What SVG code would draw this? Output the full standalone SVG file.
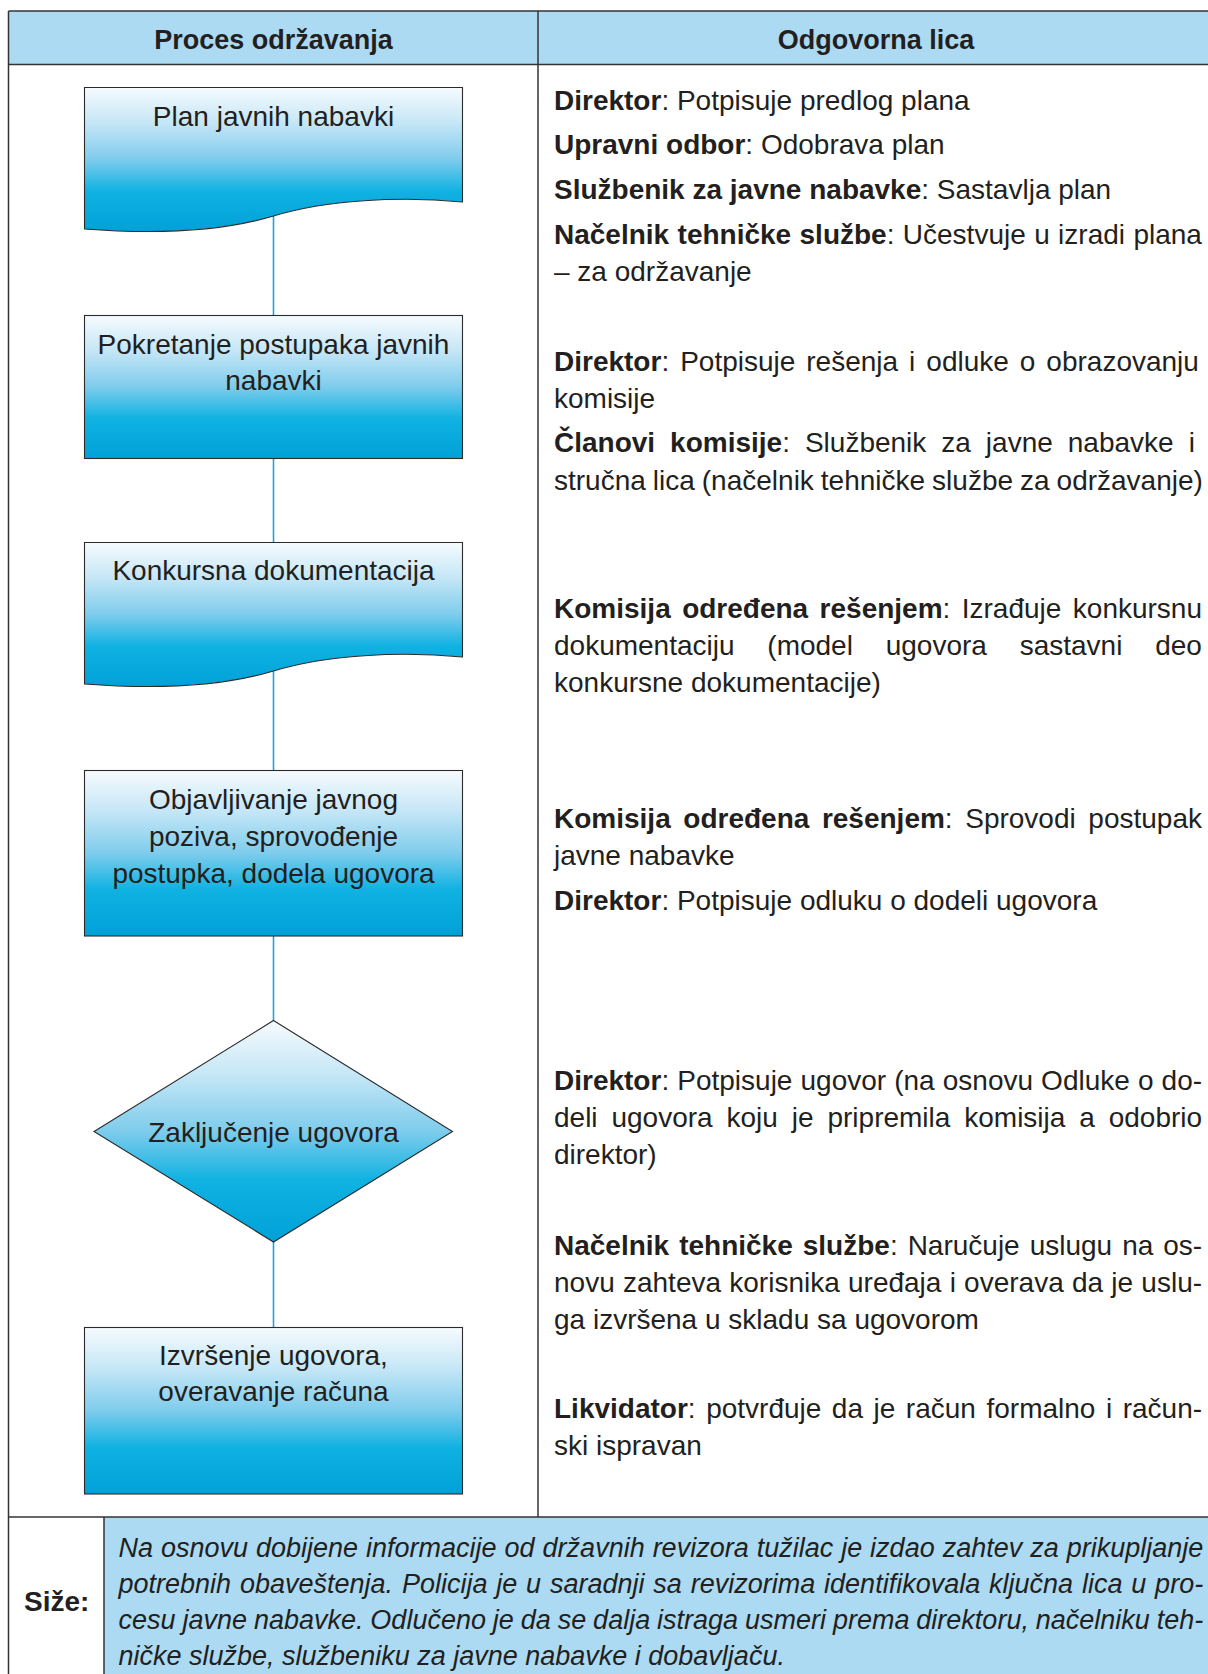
<svg xmlns="http://www.w3.org/2000/svg" width="1208" height="1674" viewBox="0 0 1208 1674">
<defs>
<linearGradient id="nodeGrad" x1="0" y1="0" x2="0" y2="1">
<stop offset="0" stop-color="#F6FBFE"/>
<stop offset="0.25" stop-color="#C4E6F6"/>
<stop offset="0.5" stop-color="#7ECCEC"/>
<stop offset="0.72" stop-color="#10B2E2"/>
<stop offset="1" stop-color="#00A1D8"/>
</linearGradient>
<style>
.node{fill:url(#nodeGrad);stroke:#2B2B2B;stroke-width:1.1}
.nt{font-family:"Liberation Sans",Arial,sans-serif;font-size:28px;fill:#231F20;text-anchor:middle}
.hd{font-family:"Liberation Sans",Arial,sans-serif;font-size:27px;font-weight:bold;fill:#231F20;text-anchor:middle}
.rt{font-family:"Liberation Sans",Arial,sans-serif;font-size:28px;fill:#231F20}
.b{font-weight:bold}
.it{font-family:"Liberation Sans",Arial,sans-serif;font-size:27px;font-style:italic;fill:#231F20}
.grid{stroke:#333333;stroke-width:1.5;fill:none}
.conn{stroke:#1DA3DD;stroke-width:1.6;fill:none}
</style>
</defs>
<rect x="0" y="0" width="1208" height="1674" fill="#FFFFFF"/>
<g id="table">
<rect x="8.5" y="11" width="1201" height="53.5" fill="#ABDAF2"/>
<rect x="104" y="1517" width="1106" height="160" fill="#ABDAF2"/>
<line class="grid" x1="8.5" y1="11" x2="1210" y2="11"/>
<line class="grid" x1="8.5" y1="64.5" x2="1210" y2="64.5"/>
<line class="grid" x1="8.5" y1="1517" x2="1210" y2="1517"/>
<line class="grid" x1="8.5" y1="11" x2="8.5" y2="1676"/>
<line class="grid" x1="538" y1="11" x2="538" y2="1517"/>
<line class="grid" x1="104" y1="1517" x2="104" y2="1676"/>
<text class="hd" x="273.5" y="49">Proces održavanja</text>
<text class="hd" x="876" y="49">Odgovorna lica</text>
</g>
<g id="connectors">
<line class="conn" x1="273.5" y1="216" x2="273.5" y2="315.5"/>
<line class="conn" x1="273.5" y1="458.5" x2="273.5" y2="542.5"/>
<line class="conn" x1="273.5" y1="671" x2="273.5" y2="770.5"/>
<line class="conn" x1="273.5" y1="936" x2="273.5" y2="1020.5"/>
<line class="conn" x1="273.5" y1="1242" x2="273.5" y2="1327.5"/>
</g>
<g id="node-plan">
<path class="node" d="M84.5,87.5 H462.5 V202 C400,196 326,200 273.5,216 C220,232 150,234 84.5,229 Z"/>
<text class="nt" x="273.5" y="126">Plan javnih nabavki</text>
</g>
<g id="node-pokretanje">
<rect class="node" x="84.5" y="315.5" width="378" height="143"/>
<text class="nt" x="273.5" y="354">Pokretanje postupaka javnih</text>
<text class="nt" x="273.5" y="390">nabavki</text>
</g>
<g id="node-konkursna">
<path class="node" d="M84.5,542.5 H462.5 V657 C400,651 326,655 273.5,671 C220,687 150,689 84.5,684 Z"/>
<text class="nt" x="273.5" y="580">Konkursna dokumentacija</text>
</g>
<g id="node-objavljivanje">
<rect class="node" x="84.5" y="770.5" width="378" height="165.5"/>
<text class="nt" x="273.5" y="808.5">Objavljivanje javnog</text>
<text class="nt" x="273.5" y="845.5">poziva, sprovođenje</text>
<text class="nt" x="273.5" y="882.5">postupka, dodela ugovora</text>
</g>
<g id="node-zakljucenje">
<polygon class="node" points="273.5,1020.5 452.5,1131.5 273.5,1242 94,1131.5"/>
<text class="nt" x="273.5" y="1142">Zaključenje ugovora</text>
</g>
<g id="node-izvrsenje">
<rect class="node" x="84.5" y="1327.5" width="378" height="166.5"/>
<text class="nt" x="273.5" y="1365">Izvršenje ugovora,</text>
<text class="nt" x="273.5" y="1401">overavanje računa</text>
</g>
<g id="responsible">
<text class="rt" x="554" y="109.5"><tspan class="b">Direktor</tspan>: Potpisuje predlog plana</text>
<text class="rt" x="554" y="154"><tspan class="b">Upravni odbor</tspan>: Odobrava plan</text>
<text class="rt" x="554" y="199"><tspan class="b">Službenik za javne nabavke</tspan>: Sastavlja plan</text>
<text class="rt" x="554" y="243.5" word-spacing="0.6"><tspan class="b">Načelnik tehničke službe</tspan>: Učestvuje u izradi plana</text>
<text class="rt" x="554" y="280.5">– za održavanje</text>
<text class="rt" x="554" y="370.5" word-spacing="3.2"><tspan class="b">Direktor</tspan>: Potpisuje rešenja i odluke o obrazovanju</text>
<text class="rt" x="554" y="408">komisije</text>
<text class="rt" x="554" y="452" word-spacing="7.2"><tspan class="b">Članovi komisije</tspan>: Službenik za javne nabavke i</text>
<text class="rt" x="554" y="490" word-spacing="-0.8">stručna lica (načelnik tehničke službe za održavanje)</text>
<text class="rt" x="554" y="618" word-spacing="3.65"><tspan class="b">Komisija određena rešenjem</tspan>: Izrađuje konkursnu</text>
<text class="rt" x="554" y="655" word-spacing="25">dokumentaciju (model ugovora sastavni deo</text>
<text class="rt" x="554" y="692">konkursne dokumentacije)</text>
<text class="rt" x="554" y="828" word-spacing="4.8"><tspan class="b">Komisija određena rešenjem</tspan>: Sprovodi postupak</text>
<text class="rt" x="554" y="865">javne nabavke</text>
<text class="rt" x="554" y="909.5"><tspan class="b">Direktor</tspan>: Potpisuje odluku o dodeli ugovora</text>
<text class="rt" x="554" y="1090" word-spacing="0.3"><tspan class="b">Direktor</tspan>: Potpisuje ugovor (na osnovu Odluke o do-</text>
<text class="rt" x="554" y="1127" word-spacing="6.1">deli ugovora koju je pripremila komisija a odobrio</text>
<text class="rt" x="554" y="1164">direktor)</text>
<text class="rt" x="554" y="1255" word-spacing="2.2"><tspan class="b">Načelnik tehničke službe</tspan>: Naručuje uslugu na os-</text>
<text class="rt" x="554" y="1292" word-spacing="0.46">novu zahteva korisnika uređaja i overava da je uslu-</text>
<text class="rt" x="554" y="1329">ga izvršena u skladu sa ugovorom</text>
<text class="rt" x="554" y="1418" word-spacing="2.76"><tspan class="b">Likvidator</tspan>: potvrđuje da je račun formalno i račun-</text>
<text class="rt" x="554" y="1455">ski ispravan</text>
</g>
<g id="summary">
<text class="rt b" x="24" y="1611" font-size="26">Siže:</text>
<text class="it" x="118.5" y="1557" word-spacing="0.47">Na osnovu dobijene informacije od državnih revizora tužilac je izdao zahtev za prikupljanje</text>
<text class="it" x="118.5" y="1593" word-spacing="1.34">potrebnih obaveštenja. Policija je u saradnji sa revizorima identifikovala ključna lica u pro-</text>
<text class="it" x="118.5" y="1629" word-spacing="-0.6">cesu javne nabavke. Odlučeno je da se dalja istraga usmeri prema direktoru, načelniku teh-</text>
<text class="it" x="118.5" y="1665">ničke službe, službeniku za javne nabavke i dobavljaču.</text>
</g>
</svg>
